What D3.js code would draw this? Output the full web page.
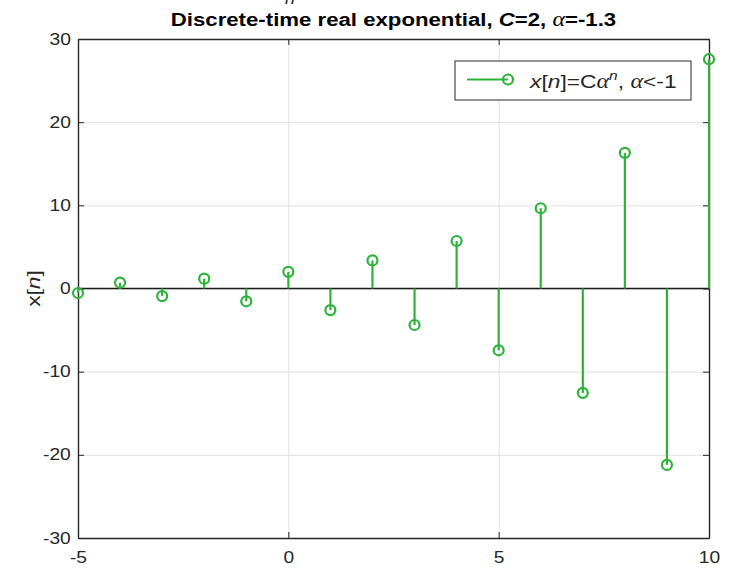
<!DOCTYPE html>
<html>
<head>
<meta charset="utf-8">
<script src="https://cdn.jsdelivr.net/npm/d3@7"></script>
<style>
  body { margin: 0; background: #fff; }
  text { font-family: "Liberation Sans", Arial, sans-serif; }
  .grid line { stroke: #e0e0e0; stroke-width: 1; }
  .grid path { display: none; }
  .axis path, .axis line { stroke: #262626; }
</style>
</head>
<body>
<div id="graph"></div>
<script>
// Data: sample index and value of each stem
var nValues = [-5, -4, -3, -2, -1, 0, 1, 2, 3, 4, 5, 6, 7, 8, 9, 10];
var xValues = [-0.54, 0.70, -0.91, 1.18, -1.54, 2.00, -2.60, 3.38, -4.39, 5.71,
               -7.43, 9.65, -12.55, 16.31, -21.21, 27.57];
var xTicks  = [-5, 0, 5, 10];
var yTicks  = [-30, -20, -10, 0, 10, 20, 30];

var green   = '#2db33c';
var stretch = 1.2;   // MATLAB text comes out a bit wide

// SVG size and plot box
var margin = { top: 39, right: 22, bottom: 40, left: 78 };
var width  = 731 - margin.left - margin.right;
var height = 578 - margin.top  - margin.bottom;

var root = d3.select('#graph')
             .append('svg')
             .attr('width', 731)
             .attr('height', 578);

var svg = root.append('g')
              .attr('transform', 'translate(' + margin.left + ',' + margin.top + ')');

var xScale = d3.scaleLinear().domain([-5, 10]).range([0, width]);
var yScale = d3.scaleLinear().domain([-30, 30]).range([height, 0]);

function plain (d) { return String(d); }   // hyphen minus like MATLAB

// grid lines
svg.append('g')
   .attr('class', 'grid')
   .attr('transform', 'translate(0,' + height + ')')
   .call(d3.axisBottom(xScale).tickValues(xTicks).tickSize(-height).tickFormat(''));

svg.append('g')
   .attr('class', 'grid')
   .call(d3.axisLeft(yScale).tickValues(yTicks).tickSize(-width).tickFormat(''));

// axes with inward ticks
var xAxis = svg.append('g')
   .attr('class', 'axis')
   .attr('transform', 'translate(0,' + height + ')')
   .call(d3.axisBottom(xScale).tickValues(xTicks).tickSizeInner(-6).tickSizeOuter(0)
           .tickPadding(14).tickFormat(plain));

var yAxis = svg.append('g')
   .attr('class', 'axis')
   .call(d3.axisLeft(yScale).tickValues(yTicks).tickSizeInner(-6).tickSizeOuter(0)
           .tickPadding(6).tickFormat(plain));

svg.selectAll('.axis text')
   .attr('font-size', 16)
   .attr('fill', '#262626')
   .attr('transform', 'scale(' + stretch + ',1)');

// top and right box lines
svg.append('g')
   .attr('class', 'axis')
   .call(d3.axisTop(xScale).tickValues(xTicks).tickSizeInner(-6).tickSizeOuter(0).tickFormat(''));
svg.append('g')
   .attr('class', 'axis')
   .attr('transform', 'translate(' + width + ',0)')
   .call(d3.axisRight(yScale).tickValues(yTicks).tickSizeInner(-6).tickSizeOuter(0).tickFormat(''));

svg.selectAll('.axis path').attr('stroke-width', 1.4);

// baseline at zero
svg.append('line')
   .attr('x1', 0).attr('x2', width)
   .attr('y1', yScale(0)).attr('y2', yScale(0))
   .attr('stroke', '#1a1a1a')
   .attr('stroke-width', 1.5);

// stems
svg.selectAll('.stem')
   .data(nValues)
   .enter()
   .append('line')
   .attr('class', 'stem')
   .attr('x1', function (d) { return xScale(d); })
   .attr('x2', function (d) { return xScale(d); })
   .attr('y1', yScale(0))
   .attr('y2', function (d, i) { return yScale(xValues[i]); })
   .attr('stroke', green)
   .attr('stroke-width', 2.2);

// markers
svg.selectAll('.marker')
   .data(nValues)
   .enter()
   .append('circle')
   .attr('class', 'marker')
   .attr('cx', function (d) { return xScale(d); })
   .attr('cy', function (d, i) { return yScale(xValues[i]); })
   .attr('r', 5)
   .attr('fill', 'none')
   .attr('stroke', green)
   .attr('stroke-width', 2.2);

// legend
var legend = svg.append('g').attr('transform', 'translate(377,22)');
legend.append('rect')
      .attr('width', 236).attr('height', 39)
      .attr('fill', '#fff')
      .attr('stroke', '#262626')
      .attr('stroke-width', 1);
legend.append('line')
      .attr('x1', 12).attr('x2', 53).attr('y1', 18.5).attr('y2', 18.5)
      .attr('stroke', green).attr('stroke-width', 2.2);
legend.append('circle')
      .attr('cx', 53).attr('cy', 18.5).attr('r', 5)
      .attr('fill', 'none').attr('stroke', green).attr('stroke-width', 2.2);

var lt = legend.append('g')
      .attr('transform', 'translate(75,27) scale(' + stretch + ',1)')
      .append('text')
      .attr('fill', '#262626')
      .attr('font-size', 19);
lt.append('tspan').style('font-style', 'italic').text('x');
lt.append('tspan').text('[');
lt.append('tspan').style('font-style', 'italic').text('n');
lt.append('tspan').text(']=C');
lt.append('tspan').style('font-family', '"Liberation Serif", serif').style('font-style', 'italic').attr('font-size', 20).text('α');
lt.append('tspan').attr('dy', -8).style('font-style', 'italic').attr('font-size', 13).text('n');
lt.append('tspan').attr('dy', 8).text(', ');
lt.append('tspan').style('font-family', '"Liberation Serif", serif').style('font-style', 'italic').attr('font-size', 20).text('α');
lt.append('tspan').text('<-1');

// y label
var yl = root.append('g')
    .attr('transform', 'translate(40,' + (margin.top + yScale(0)) + ') rotate(-90) scale(' + stretch + ',1)')
    .append('text')
    .attr('text-anchor', 'middle')
    .attr('fill', '#262626')
    .attr('font-size', 19);
yl.append('tspan').text('x[');
yl.append('tspan').style('font-style', 'italic').text('n');
yl.append('tspan').text(']');

// title
var title = root.append('g')
    .attr('transform', 'translate(' + (margin.left + width / 2) + ',26) scale(' + stretch + ',1)')
    .append('text')
    .attr('text-anchor', 'middle')
    .attr('fill', '#000')
    .attr('font-size', 18.5)
    .style('font-weight', 'bold');
title.append('tspan').text('Discrete-time real exponential, ');
title.append('tspan').style('font-style', 'italic').text('C');
title.append('tspan').text('=2, ');
title.append('tspan').style('font-family', '"Liberation Serif", serif').style('font-style', 'italic').style('font-weight', 'normal').attr('font-size', 20).text('α');
title.append('tspan').text('=-1.3');

// cut-off label of the plot above
root.append('text')
    .attr('x', 290).attr('y', 4)
    .attr('text-anchor', 'middle')
    .attr('fill', '#262626')
    .attr('font-size', 18)
    .style('font-style', 'italic')
    .text('n');
</script>
</body>
</html>
